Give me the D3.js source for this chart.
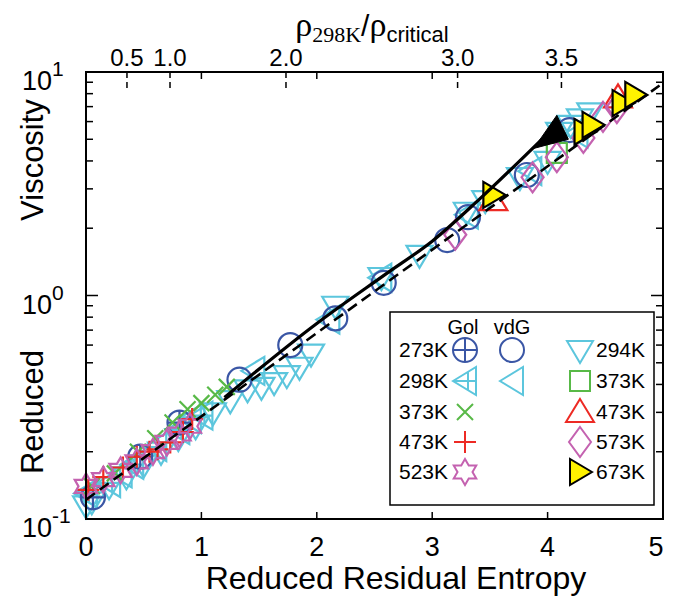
<!DOCTYPE html>
<html>
<head>
<meta charset="utf-8">
<script src="https://cdn.jsdelivr.net/npm/d3@7"></script>
<style>
  html, body { margin: 0; padding: 0; background: #fff; }
  svg { display: block; }
  text { font-family: "Liberation Sans", Arial, Helvetica, sans-serif; fill: #000; }
</style>
</head>
<body>
<div id="chart"></div>
<script>
// values: [reduced residual entropy, reduced viscosity]
const GOL_273K = [[0.06,0.125],[0.47,0.19],[0.81,0.27]];
const VDG_273K = [[1.33,0.42],[1.77,0.60],[2.16,0.79],[2.58,1.14],[3.13,1.77],[3.31,2.24],[3.82,3.46],[4.19,5.5]];
const GOL_298K = [[0.0,0.13],[0.2,0.145],[0.4,0.175],[0.6,0.21],[0.8,0.25],[1.0,0.29]];
const VDG_298K = [[0.3,0.16],[0.9,0.28],[1.45,0.46],[2.1,0.78],[2.55,1.2],[3.3,2.3],[3.85,3.6],[4.25,5.3]];
const GOL_373K = [[0.05,0.14],[0.25,0.16],[0.45,0.2],[0.6,0.23],[0.75,0.27],[0.88,0.31],[1.0,0.33],[1.12,0.36],[1.22,0.39]];
const GOL_473K = [[0.02,0.135],[0.15,0.154],[0.32,0.17],[0.44,0.19],[0.55,0.2],[0.62,0.205],[0.73,0.22],[0.84,0.245],[0.92,0.28]];
const GOL_523K = [[0.0,0.14],[0.15,0.15],[0.3,0.165],[0.44,0.18],[0.58,0.2],[0.7,0.22],[0.81,0.24],[0.9,0.26]];
const DAT_294K = [[0.0,0.115],[0.05,0.12],[0.2,0.14],[0.35,0.155],[0.5,0.175],[0.65,0.2],[0.8,0.23],[0.95,0.26],[1.1,0.3],
                  [1.25,0.34],[1.4,0.38],[1.52,0.39],[1.63,0.41],[1.74,0.44],[1.85,0.48],[1.95,0.55],[2.16,0.9],
                  [2.56,1.21],[2.89,1.52],[3.3,2.37],[3.46,2.67],[3.76,3.39],[4.0,4.0],[4.1,5.4],[4.2,5.8],
                  [4.28,6.2],[4.37,6.6]];
const DAT_373K = [[4.08,4.35]];
const DAT_473K = [[3.53,2.67],[4.61,7.7]];
const DAT_573K = [[3.2,1.87],[3.87,3.38],[4.08,4.16],[4.31,5.07],[4.48,6.3],[4.6,6.9]];
const DAT_673K = [[3.53,2.82],[4.32,5.4],[4.39,5.8],[4.65,7.26],[4.76,7.9]];

const FIT_DASHED = [[0,0.122],[4.97,8.7]];
const CURVE_SOLID = [[1.2,0.35],[2.0,0.75],[2.6,1.25],[3.0,1.75],[3.41,2.7],[3.95,5.0]];
const CURVE_TIP = [[3.88,4.55],[4.08,6.4],[4.18,5.0]];

const X_TICKS = [0,1,2,3,4,5];
const Y_MAJOR = [0.1,1,10];
const Y_EXP = ["-1","0","1"];
const TOP_LABELS = ["0.5","1.0","2.0","3.0","3.5"];
const TOP_POS = [0.355,0.728,1.733,3.22,4.12];
const LEFT_LABELS = ["273K","298K","373K","473K","523K"];
const RIGHT_LABELS = ["294K","373K","473K","573K","673K"];

const BLUE = "#3a56a5", CYAN = "#5cc6dd", GREEN = "#58b947", RED = "#ed2a24", MAG = "#c462b0", YEL = "#fff200";

const W = 680, H = 596;
const M = { left: 86, right: 663, top: 72, bottom: 519 };

const x = d3.scaleLinear().domain([0, 5]).range([M.left, M.right]);
const y = d3.scaleLog().domain([0.1, 10]).range([M.bottom, M.top]);

// marker outlines centred on 0,0
const circ = r => `M${-r},0A${r},${r} 0 1,0 ${r},0A${r},${r} 0 1,0 ${-r},0Z`;
function star(ro, ri) {
  const p = d3.range(12).map(i => {
    const a = -Math.PI / 2 + i * Math.PI / 6, r = i % 2 ? ri : ro;
    return [r * Math.cos(a), r * Math.sin(a)];
  });
  return "M" + p.map(q => q.join(",")).join("L") + "Z";
}
const SHAPES = {
  circlePlus: circ(12) + "M-12,0H12M0,-12V12",
  circle: circ(12),
  leftTriCross: "M-12,0L11,-14L11,14Z M-12,0H11 M3,-9V9",
  leftTri: "M-12,0L11,-14L11,14Z",
  cross: "M-8,-8L8,8M-8,8L8,-8",
  plus: "M-11,0H11M0,-11V11",
  star: star(13, 7.5),
  downTri: "M-13,-9L13,-9L0,13Z",
  square: "M-10,-10H10V10H-10Z",
  upTri: "M0,-13L14,10L-14,10Z",
  diamond: "M0,-15L11,0L0,15L-11,0Z",
  rightTri: "M12,0L-10,-13L-10,13Z"
};

const SERIES = [
  { data: DAT_294K, shape: "downTri", color: CYAN },
  { data: GOL_298K, shape: "leftTriCross", color: CYAN },
  { data: VDG_298K, shape: "leftTri", color: CYAN },
  { data: GOL_273K, shape: "circlePlus", color: BLUE },
  { data: VDG_273K, shape: "circle", color: BLUE },
  { data: GOL_373K, shape: "cross", color: GREEN },
  { data: GOL_473K, shape: "plus", color: RED },
  { data: GOL_523K, shape: "star", color: MAG },
  { data: DAT_373K, shape: "square", color: GREEN },
  { data: DAT_473K, shape: "upTri", color: RED },
  { data: DAT_573K, shape: "diamond", color: MAG },
  { data: DAT_673K, shape: "rightTri", color: "#000", fill: YEL }
];

const svg = d3.select("#chart").append("svg").attr("width", W).attr("height", H);

// markers
SERIES.forEach(s => {
  svg.append("g").selectAll("path").data(s.data).join("path")
    .attr("transform", d => `translate(${x(d[0])},${y(d[1])})`)
    .attr("d", SHAPES[s.shape])
    .attr("fill", s.fill || "none")
    .attr("stroke", s.color)
    .attr("stroke-width", 2.2)
    .attr("stroke-linejoin", "miter");
});

// fitted lines
const line = d3.line().x(d => x(d[0])).y(d => y(d[1]));
svg.append("path").attr("d", line(FIT_DASHED)).attr("fill", "none")
  .attr("stroke", "#000").attr("stroke-width", 2.6).attr("stroke-dasharray", "11,6");
svg.append("path").attr("d", line.curve(d3.curveMonotoneX)(CURVE_SOLID)).attr("fill", "none")
  .attr("stroke", "#000").attr("stroke-width", 3.2);
line.curve(d3.curveLinear);
svg.append("path").attr("d", line(CURVE_TIP) + "Z").attr("fill", "#000").attr("stroke", "#000").attr("stroke-width", 1);

// frame
svg.append("rect").attr("x", M.left).attr("y", M.top)
  .attr("width", M.right - M.left).attr("height", M.bottom - M.top)
  .attr("fill", "none").attr("stroke", "#000").attr("stroke-width", 2);

// x ticks (bottom + mirrored top)
const xt = svg.append("g").attr("stroke", "#000").attr("stroke-width", 1.5);
X_TICKS.slice(1, -1).forEach(t => {
  xt.append("line").attr("x1", x(t)).attr("x2", x(t)).attr("y1", M.bottom).attr("y2", M.bottom - 7);
  xt.append("line").attr("x1", x(t)).attr("x2", x(t)).attr("y1", M.top).attr("y2", M.top + 7);
});
svg.append("g").selectAll("text").data(X_TICKS).join("text")
  .attr("x", d => Math.min(x(d), 656)).attr("y", 556)
  .attr("text-anchor", "middle").attr("font-size", 27).text(d => d);

// y ticks (left + mirrored right)
const yMinor = [];
[0.1, 1].forEach(b => d3.range(2, 10).forEach(k => yMinor.push(b * k)));
const yt = svg.append("g").attr("stroke", "#000").attr("stroke-width", 1.5);
yMinor.forEach(v => {
  yt.append("line").attr("x1", M.left).attr("x2", M.left + 7).attr("y1", y(v)).attr("y2", y(v));
  yt.append("line").attr("x1", M.right).attr("x2", M.right - 7).attr("y1", y(v)).attr("y2", y(v));
});
Y_MAJOR.forEach(v => {
  yt.append("line").attr("x1", M.left).attr("x2", M.left + 12).attr("y1", y(v)).attr("y2", y(v));
  yt.append("line").attr("x1", M.right).attr("x2", M.right - 12).attr("y1", y(v)).attr("y2", y(v));
});
Y_MAJOR.forEach((v, i) => {
  const t = svg.append("text").attr("x", 22).attr("y", y(v) + 18).attr("font-size", 27);
  t.append("tspan").text("10");
  t.append("tspan").attr("dy", -14).attr("font-size", 21).text(Y_EXP[i]);
});

// top axis: density ratio, dashed ticks
const tt = svg.append("g").attr("stroke", "#000").attr("stroke-width", 1.5).attr("stroke-dasharray", "6,4");
TOP_POS.forEach(p => {
  tt.append("line").attr("x1", x(p)).attr("x2", x(p)).attr("y1", M.top).attr("y2", M.top + 20);
});
svg.append("g").selectAll("text").data(TOP_LABELS).join("text")
  .attr("x", (d, i) => x(TOP_POS[i])).attr("y", 66)
  .attr("text-anchor", "middle").attr("font-size", 24).text(d => d);

const tTitle = svg.append("text").attr("x", 372).attr("y", 36).attr("text-anchor", "middle");
tTitle.append("tspan").attr("font-family", "Liberation Serif, serif").attr("font-size", 34).text("ρ");
tTitle.append("tspan").attr("font-family", "Liberation Serif, serif").attr("font-size", 22).attr("dy", 6).text("298K");
tTitle.append("tspan").attr("font-size", 30).attr("dy", -6).text("/");
tTitle.append("tspan").attr("font-family", "Liberation Serif, serif").attr("font-size", 34).text("ρ");
tTitle.append("tspan").attr("font-size", 22).attr("dy", 6).text("critical");

// axis titles
svg.append("text").attr("x", 396).attr("y", 589)
  .attr("text-anchor", "middle").attr("font-size", 32).text("Reduced Residual Entropy");
svg.append("text").attr("transform", "translate(43,412) rotate(-90)")
  .attr("text-anchor", "middle").attr("font-size", 31).text("Reduced");
svg.append("text").attr("transform", "translate(43,160) rotate(-90)")
  .attr("text-anchor", "middle").attr("font-size", 31).text("Viscosity");

// legend
const lg = svg.append("g");
lg.append("rect").attr("x", 390).attr("y", 312).attr("width", 264).attr("height", 193)
  .attr("fill", "#fff").attr("stroke", "#000").attr("stroke-width", 1.5);
lg.append("text").attr("x", 463).attr("y", 334).attr("text-anchor", "middle").attr("font-size", 20).text("Gol");
lg.append("text").attr("x", 512).attr("y", 334).attr("text-anchor", "middle").attr("font-size", 20).text("vdG");
const rowY = [350, 381, 412, 442, 472];
const leftShapes = [["circlePlus", BLUE], ["leftTriCross", CYAN], ["cross", GREEN], ["plus", RED], ["star", MAG]];
const vdgShapes = [["circle", BLUE], ["leftTri", CYAN]];
const rightShapes = [["downTri", CYAN], ["square", GREEN], ["upTri", RED], ["diamond", MAG], ["rightTri", "#000", YEL]];
LEFT_LABELS.forEach((l, i) => {
  lg.append("text").attr("x", 448).attr("y", rowY[i] + 7).attr("text-anchor", "end").attr("font-size", 21).text(l);
  lg.append("path").attr("transform", `translate(465,${rowY[i]})`).attr("d", SHAPES[leftShapes[i][0]])
    .attr("fill", "none").attr("stroke", leftShapes[i][1]).attr("stroke-width", 2);
});
vdgShapes.forEach((s, i) => {
  lg.append("path").attr("transform", `translate(512,${rowY[i]})`).attr("d", SHAPES[s[0]])
    .attr("fill", "none").attr("stroke", s[1]).attr("stroke-width", 2);
});
RIGHT_LABELS.forEach((l, i) => {
  const s = rightShapes[i];
  lg.append("path").attr("transform", `translate(580,${rowY[i]})`).attr("d", SHAPES[s[0]])
    .attr("fill", s[2] || "none").attr("stroke", s[1]).attr("stroke-width", 2);
  lg.append("text").attr("x", 596).attr("y", rowY[i] + 7).attr("font-size", 21).text(l);
});
</script>
</body>
</html>
